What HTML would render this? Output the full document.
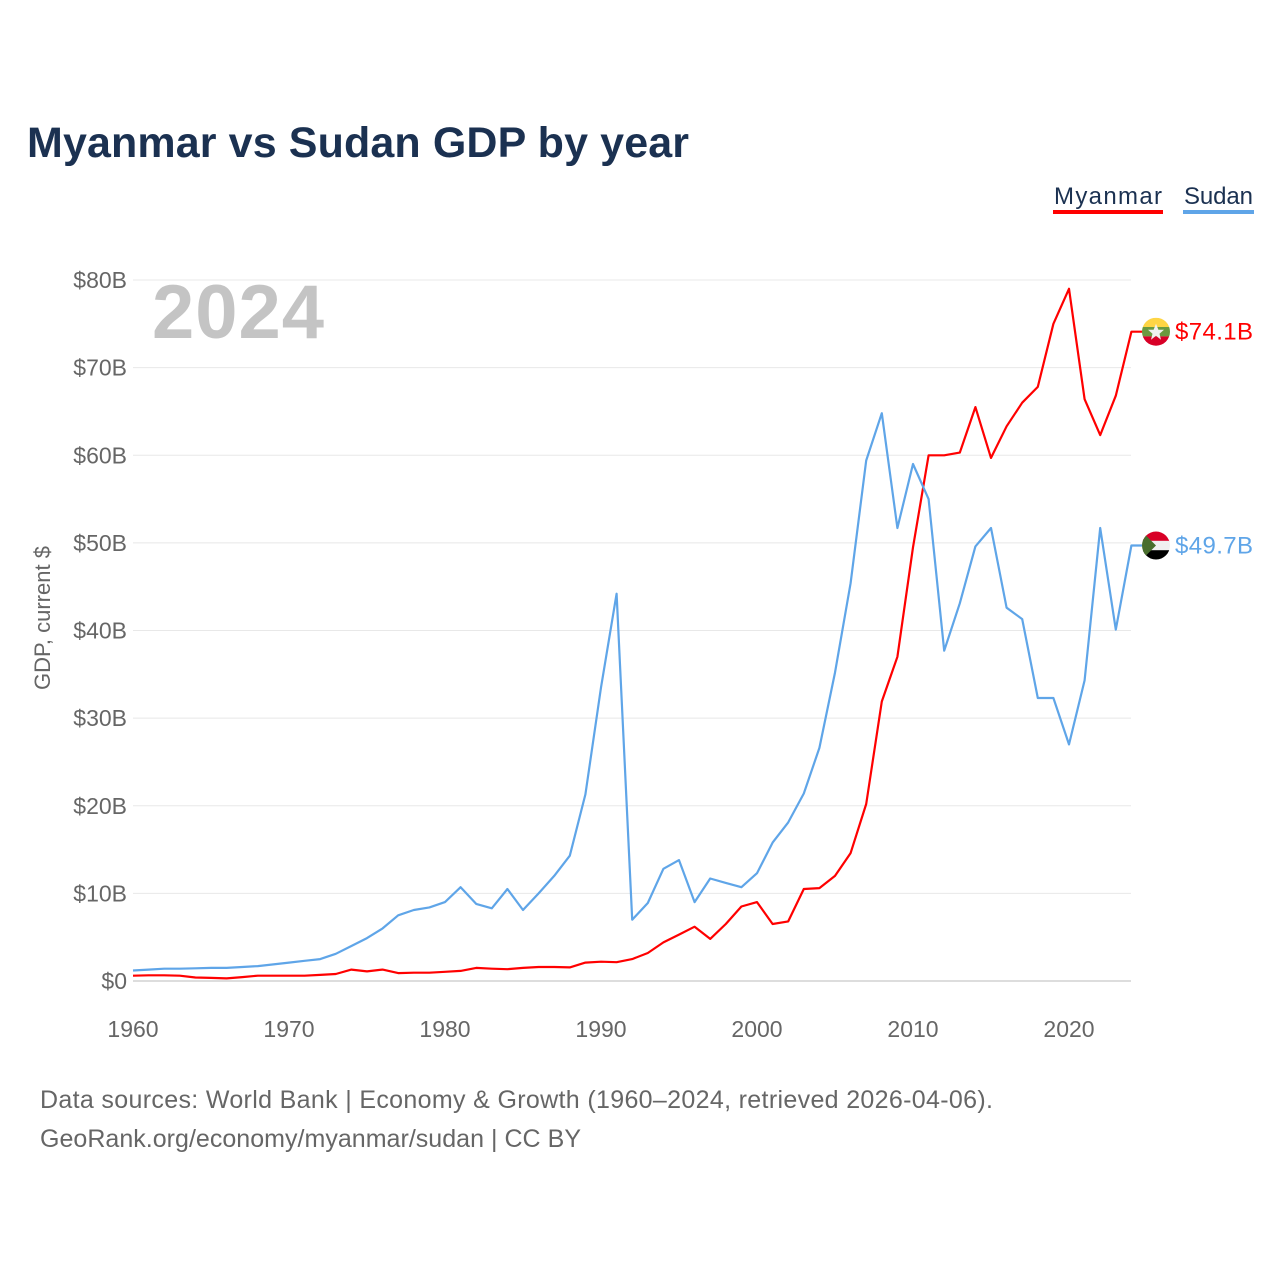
<!DOCTYPE html>
<html><head><meta charset="utf-8">
<style>
body{margin:0;background:#fff;}
svg text{font-family:"Liberation Sans",sans-serif;}
</style></head>
<body>
<svg id="chart" width="1280" height="1280" viewBox="0 0 1280 1280" xmlns="http://www.w3.org/2000/svg">
<text x="27" y="157" font-size="43" font-weight="bold" fill="#1b3151" textLength="662">Myanmar vs Sudan GDP by year</text>
<g>
<text x="1054" y="204" font-size="24" fill="#1b3151" textLength="108">Myanmar</text>
<rect x="1053" y="210" width="110" height="4" fill="#ff0000"/>
<text x="1184" y="204" font-size="24" fill="#1b3151" textLength="69">Sudan</text>
<rect x="1183" y="210" width="71" height="4" fill="#5fa5e8"/>
</g>
<text x="152" y="338" font-size="76" font-weight="bold" fill="#c4c4c4" textLength="172">2024</text>
<text transform="translate(50,618) rotate(-90)" text-anchor="middle" font-size="22" fill="#666">GDP, current $</text>
<g id="grid"></g><g id="yt"></g><g id="xt"></g><g id="lines"></g>
<text x="40" y="1108" font-size="25" fill="#666" textLength="953">Data sources: World Bank | Economy &amp; Growth (1960–2024, retrieved 2026-04-06).</text>
<text x="40" y="1147" font-size="25" fill="#666" textLength="541">GeoRank.org/economy/myanmar/sudan | CC BY</text>
</svg>
<script>
const years=[];for(let y=1960;y<=2024;y++)years.push(y);
const myanmar=[0.6,0.65,0.65,0.6,0.4,0.35,0.3,0.45,0.6,0.6,0.6,0.6,0.7,0.8,1.3,1.1,1.3,0.9,0.95,0.95,1.05,1.15,1.5,1.4,1.35,1.5,1.6,1.6,1.55,2.1,2.2,2.15,2.5,3.2,4.4,5.3,6.2,4.8,6.5,8.5,9.0,6.5,6.8,10.5,10.6,12.0,14.6,20.2,31.9,37.0,49.5,60.0,60.0,60.3,65.5,59.7,63.3,66.0,67.8,75.0,79.0,66.4,62.3,66.8,74.1];
const sudan=[1.2,1.3,1.4,1.4,1.45,1.5,1.5,1.6,1.7,1.9,2.1,2.3,2.5,3.1,4.0,4.9,6.0,7.5,8.1,8.4,9.0,10.7,8.8,8.3,10.5,8.1,10.0,12.0,14.3,21.3,33.5,44.2,7.0,8.9,12.8,13.8,9.0,11.7,11.2,10.7,12.3,15.8,18.1,21.4,26.6,35.2,45.4,59.4,64.8,51.7,59.0,55.0,37.7,43.1,49.6,51.7,42.6,41.3,32.3,32.3,27.0,34.3,51.7,40.1,49.7];
const yTicks=[0,10,20,30,40,50,60,70,80];
const yTickLabels=['$0','$10B','$20B','$30B','$40B','$50B','$60B','$70B','$80B'];
const xTicks=[1960,1970,1980,1990,2000,2010,2020];
const X=y=>133+(y-1960)*15.6, Y=v=>981-v*8.7625;
const NS="http://www.w3.org/2000/svg";
function mk(t,a,p){const e=document.createElementNS(NS,t);for(const k in a)e.setAttribute(k,a[k]);document.getElementById(p).appendChild(e);return e;}
yTicks.forEach((v,i)=>{
 const l=mk('line',{x1:133,x2:1131,y1:Y(v),y2:Y(v),stroke:v==0?'#ddd':'#e8e8e8','stroke-width':v==0?2:1},'grid');
 
 
 const t=mk('text',{x:127,y:Y(v)+8,'text-anchor':'end','font-size':23,fill:'#666'},'yt');
 t.textContent=yTickLabels[i];
 
 
});
xTicks.forEach(v=>{
 const t=mk('text',{x:X(v),y:1037,'text-anchor':'middle','font-size':23,fill:'#666'},'xt');
 t.textContent=v;
 
 
});
function series(vals,col,name){
 const d=vals.map((v,i)=>(i?'L':'M')+X(years[i]).toFixed(1)+' '+Y(v).toFixed(1)).join(' ')+' l11 0';
 const p=mk('path',{d:d,fill:'none',stroke:col,'stroke-width':2.2,'stroke-linejoin':'round'},'lines');
 
 
 const last=vals[vals.length-1], cy=Y(last);
 const t=mk('text',{x:1175,y:cy+8,'font-size':24,fill:col,textLength:78},'lines');
 t.textContent='$'+last.toFixed(1)+'B';
 
 
 return cy;
}
const cm=series(myanmar,'#ff0000','myanmar');
const cs=series(sudan,'#5fa5e8','sudan');
const g1=mk('g',{},'lines');


g1.innerHTML=`<clipPath id="c1"><circle cx="1156" cy="${cm}" r="14"/></clipPath><g clip-path="url(#c1)"><rect x="1142" y="${cm-14}" width="28" height="10" fill="#fed545"/><rect x="1142" y="${cm-4.7}" width="28" height="9.4" fill="#6a9a3f"/><rect x="1142" y="${cm+4.7}" width="28" height="10" fill="#d80027"/><polygon points="1156,${cm-8} 1158.4,${cm-2} 1164,${cm-2} 1159.5,${cm+2} 1161,${cm+8} 1156,${cm+4} 1151,${cm+8} 1152.5,${cm+2} 1148,${cm-2} 1153.6,${cm-2}" fill="#f0f0f0"/></g>`;
const g2=mk('g',{},'lines');


g2.innerHTML=`<clipPath id="c2"><circle cx="1156" cy="${cs}" r="14"/></clipPath><g clip-path="url(#c2)"><rect x="1142" y="${cs-14}" width="28" height="10" fill="#d80027"/><rect x="1142" y="${cs-4.7}" width="28" height="9.4" fill="#f0f0f0"/><rect x="1142" y="${cs+4.7}" width="28" height="10" fill="#000"/><polygon points="1142,${cs-14} 1156,${cs} 1142,${cs+14}" fill="#496e2d"/></g>`;
</script>
</body></html>
